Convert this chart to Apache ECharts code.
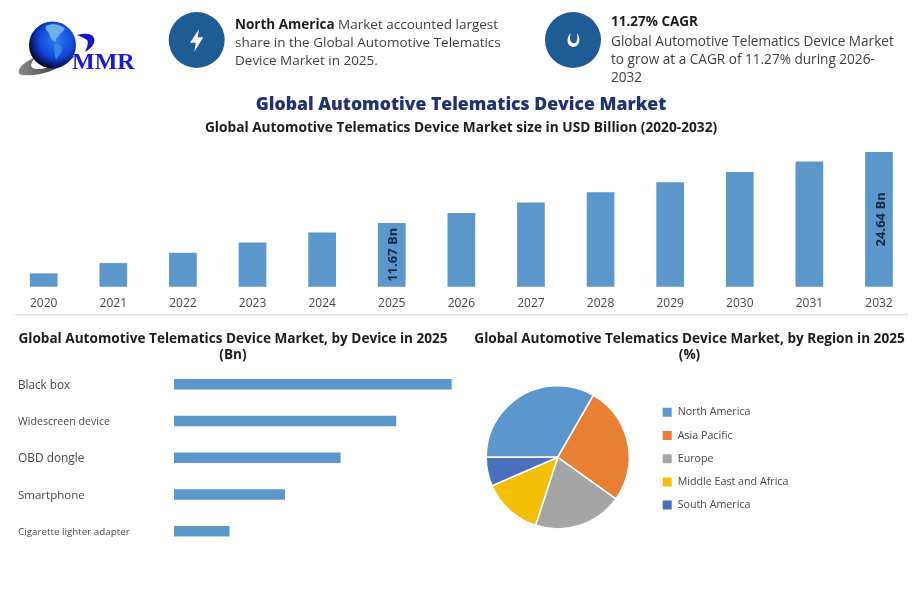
<!DOCTYPE html>
<html>
<head>
<meta charset="utf-8">
<style>html,body{margin:0;padding:0;background:#fff}#c{width:918px;height:589px}</style>
<script src="https://cdn.jsdelivr.net/npm/echarts@6/dist/echarts.min.js"></script>
</head>
<body>
<div id="c"></div>
<script>
const years = ['2020','2021','2022','2023','2024','2025','2026','2027','2028','2029','2030','2031','2032'];
const marketSize = [2.44,4.32,6.2,8.1,9.93,11.67,13.5,15.4,17.28,19.1,21.0,22.9,24.64];
const labelledYears = ['2025','2032'];
const devices = ['Black box','Widescreen device','OBD dongle','Smartphone','Cigarette lighter adapter'];
const deviceValues = [5,4,3,2,1];
const regions = ['North America','Asia Pacific','Europe','Middle East and Africa','South America'];
const regionValues = [33.3,26.6,20.1,13.5,6.5];
const regionColors = ['#5b97cc','#e97f33','#a5a5a5','#f3bf05','#4a6fbd'];

const FONT = '"Open Sans","Noto Sans",sans-serif';
const BAR = '#5b97cb';
const DARK = '#1c1c1c';
const TEXT = '#3f3f3f';
const AXIS = '#44474f';
const BADGE = '#1f5c94';

let shapeCount = 0;
function pathEl(d, fill) {
  const name = 'deco' + (shapeCount++);
  echarts.graphic.registerShape(name, echarts.graphic.extendPath(d, {}));
  return {type:name, silent:true, style:{fill}};
}
function text(x, y, t, size, weight, color, align, extra) {
  return {type:'text', x, y, silent:true, style:Object.assign({
    text:t, fontFamily:FONT, fontSize:size, fontWeight:weight, fill:color,
    textAlign:align||'left', textVerticalAlign:'middle'}, extra||{})};
}
const graphic = [
  {type:'rect', shape:{x:15,y:314,width:893,height:1.3}, style:{fill:'#dcdcdc'}, silent:true},
  pathEl('M19 74 C17 68 24 62 36 57 C30 63 29 68 36 69 C45 70 60 64 76 55 C62 68 46 74 33 75 C26 75.5 21 75.5 19 74 Z',
    {type:'linear',x:0,y:0,x2:1,y2:0,colorStops:[{offset:0,color:'#8a8a8a'},{offset:.5,color:'#555'},{offset:1,color:'#10108c'}]}),
  {type:'circle', silent:true, shape:{cx:52.5,cy:45,r:23.5},
    style:{fill:{type:'radial',x:.58,y:.4,r:.62,colorStops:[{offset:0,color:'#2f7df0'},{offset:.6,color:'#1046d8'},{offset:.86,color:'#071a70'},{offset:1,color:'#020414'}]}}},
  pathEl('M46 26 C52 23 61 24 65 29 C63 32 60 33 58 37 C56 38 55 40 56 42 C52 41 50 37 49 33 C47 31 45 29 46 26 Z','#6fb0e6'),
  pathEl('M54 44 C58 43 62 46 62 50 C61 54 58 56 56 60 C55 56 54 52 54 48 Z','#3a88e6'),
  pathEl('M77 35 C84 33 92 33 94 38 C96 44 90 49 85 52 C87 47 89 43 87 40 C85 38 81 37 77 35 Z','#1414c8'),
  text(72,62.5,'MMR',24,'bold','#1818d8','left',{fontFamily:'"Liberation Serif",serif'}),
  {type:'circle', silent:true, shape:{cx:196.7,cy:40,r:28}, style:{fill:BADGE}},
  {type:'polygon', silent:true, shape:{points:[[199,29.3],[190,42.7],[195.7,42.7],[194.3,51.7],[203.3,37.3],[197.7,37.3]]}, style:{fill:'#fff'}},
  {type:'circle', silent:true, shape:{cx:573,cy:40,r:28}, style:{fill:BADGE}},
  pathEl('M571 33 C566 37 566 46 573 47 C580 47 581 38 577 33 C578 38 577 42 575 43 C573 44 570 42 570 39 C570 37 570 35 571 33 Z','#fff'),
  {type:'text', x:235, y:25, silent:true, style:{text:'{b|North America} Market accounted largest', fontFamily:FONT, fontSize:13.5, fill:TEXT, textVerticalAlign:'middle', rich:{b:{fontFamily:FONT,fontWeight:'bold',fontSize:13.5,fill:DARK}}}},
  text(235,43.5,'share in the Global Automotive Telematics',13.5,'normal',TEXT),
  text(235,61,'Device Market in 2025.',13.5,'normal',TEXT),
  text(611,22.5,'11.27% CAGR',13.5,'bold',DARK),
  text(611,42.5,'Global Automotive Telematics Device Market',13.6,'normal',TEXT),
  text(611,60,'to grow at a CAGR of 11.27% during 2026-',13.6,'normal',TEXT),
  text(611,78,'2032',13.6,'normal',TEXT),
  text(461,105,'Global Automotive Telematics Device Market',17.6,800,'#1f3275','center'),
  text(461,128.5,'Global Automotive Telematics Device Market size in USD Billion (2020-2032)',13.7,'bold',DARK,'center'),
  text(233,339,'Global Automotive Telematics Device Market, by Device in 2025',13.6,'bold',DARK,'center'),
  text(233,355.5,'(Bn)',13.6,'bold',DARK,'center'),
  text(689.5,339,'Global Automotive Telematics Device Market, by Region in 2025',13.6,'bold',DARK,'center'),
  text(689.5,355.5,'(%)',13.6,'bold',DARK,'center')
];

const deviceFont = {'Black box':11.7,'Widescreen device':10.6,'OBD dongle':11.9,'Smartphone':11.5,'Cigarette lighter adapter':9.8};
const rich = {};
devices.forEach((d,i)=>{ rich['d'+i] = {fontFamily:FONT,fontSize:deviceFont[d],color:AXIS,padding:[2,0,0,0]}; });

const option = {
  animation:false,
  backgroundColor:'#fff',
  graphic,
  grid:[
    {left:8.9, right:4.2, top:152, height:134.7},
    {left:174, width:277.7, top:366, height:183.5}
  ],
  xAxis:[
    {type:'category', gridIndex:0, data:years,
      axisLine:{show:false}, axisTick:{show:false},
      axisLabel:{color:AXIS, fontFamily:FONT, fontSize:12, margin:11, interval:0}},
    {type:'value', gridIndex:1, min:0, max:5, show:false}
  ],
  yAxis:[
    {type:'value', gridIndex:0, min:0, max:24.64, show:false},
    {type:'category', gridIndex:1, inverse:true, data:devices,
      axisLine:{show:false}, axisTick:{show:false},
      axisLabel:{align:'left', margin:156, interval:0,
        formatter:(v)=>'{d'+devices.indexOf(v)+'|'+v+'}', rich}}
  ],
  legend:{orient:'vertical', left:655.7, top:400.3, padding:5, itemWidth:11, itemHeight:11, itemGap:9.2, icon:'rect',
    data:regions, selectedMode:false,
    textStyle:{fontFamily:FONT, fontSize:10.7, color:AXIS, padding:[0,0,0,0], height:14, lineHeight:14}},
  series:[
    {type:'bar', xAxisIndex:0, yAxisIndex:0, barWidth:27.7,
      data:marketSize.map((v,i)=>({value:v,
        label:{show:labelledYears.includes(years[i]), position:'inside', rotate:90,
          formatter:'{c} Bn', fontFamily:FONT, fontSize:13, fontWeight:'bold', color:'#14293f', offset:[0,2]}})),
      itemStyle:{color:BAR}},
    {type:'bar', xAxisIndex:1, yAxisIndex:1, barWidth:10.5, data:deviceValues, itemStyle:{color:BAR}},
    {type:'pie', center:[557.7,457.3], radius:[0,71.5], startAngle:180, clockwise:true,
      label:{show:false}, labelLine:{show:false}, silent:true,
      itemStyle:{borderColor:'#fff', borderWidth:1.5},
      data:regions.map((n,i)=>({name:n, value:regionValues[i], itemStyle:{color:regionColors[i]}}))}
  ]
};
echarts.init(document.getElementById('c'), null, {renderer:'canvas'}).setOption(option);
</script>
</body>
</html>
